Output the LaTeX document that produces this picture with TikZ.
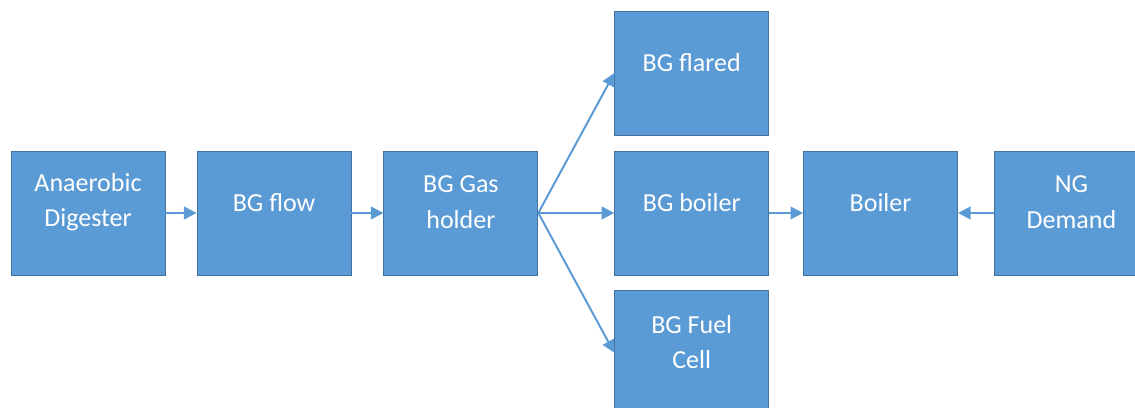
\documentclass[tikz,border=0pt]{standalone}
\usepackage{fontspec}
\setmainfont{Carlito}
\usetikzlibrary{positioning,arrows.meta}
\definecolor{boxblue}{RGB}{91,155,213}
\definecolor{edgeblue}{RGB}{65,113,156}

\begin{document}
\begin{tikzpicture}[
  node distance=0.8cm,
  box/.style={rectangle, draw=edgeblue, line width=0.6pt, fill=boxblue,
    minimum width=3.85cm, minimum height=3.1cm, inner sep=0pt},
  txt/.style={text=white, align=center, font=\fontsize{18.5}{25.5}\selectfont, yshift=0.27cm},
  arrow/.style={-{Triangle[width=9pt,length=9pt]}, line width=1.4pt, color=boxblue}
]
  \clip (0,0) rectangle (28.375,10.2);
  \node[box, label={[txt]center:Anaerobic\\Digester}] (digester) at (2.2,4.875) {};
  \node[box, right=0.78cm of digester, label={[txt]center:BG flow}] (flow) {};
  \node[box, right=0.8cm of flow, label={[txt]center:BG Gas\\holder}] (holder) {};
  \node[box, right=1.9cm of holder, label={[txt]center:BG boiler}] (bgboiler) {};
  \node[box, above=0.375cm of bgboiler, label={[txt]center:BG flared}] (flared) {};
  \node[box, below=0.375cm of bgboiler, label={[txt]center:BG Fuel\\Cell}] (fuelcell) {};
  \node[box, right=0.85cm of bgboiler, label={[txt]center:Boiler}] (boiler) {};
  \node[box, right=0.9cm of boiler, label={[txt]center:NG\\Demand}] (ngdemand) {};

  \draw[arrow] (digester) -- (flow);
  \draw[arrow] (flow) -- (holder);
  \draw[arrow] (holder.east) -- (flared.west);
  \draw[arrow] (holder.east) -- (bgboiler.west);
  \draw[arrow] (holder.east) -- (fuelcell.west);
  \draw[arrow] (bgboiler) -- (boiler);
  \draw[arrow] (ngdemand) -- (boiler);
\end{tikzpicture}
\end{document}
